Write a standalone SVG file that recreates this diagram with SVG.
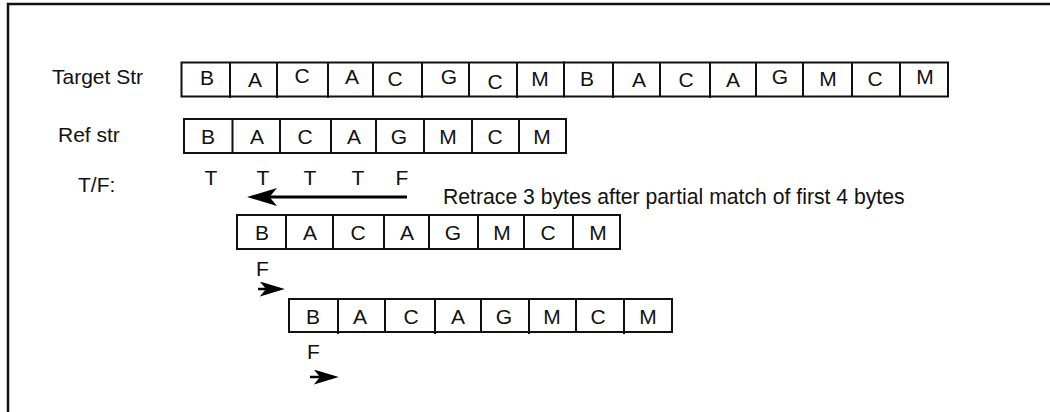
<svg xmlns="http://www.w3.org/2000/svg" width="1050" height="412" viewBox="0 0 1050 412">
<style>
text{font-family:"Liberation Sans",Arial,sans-serif;font-size:21px;fill:#111}
.c{text-anchor:middle}
.box{fill:#fff;stroke:#111;stroke-width:2}
.div{stroke:#111;stroke-width:2}
.arr{stroke:#000;fill:none}
</style>
<defs>
<marker id="ah" viewBox="0 0 10 6" refX="2.5" refY="3" markerWidth="10" markerHeight="6" orient="auto" markerUnits="strokeWidth">
<path d="M0,0 L10,3 L0,6 L2.5,3 z" fill="#000"/>
</marker>
</defs>
<rect width="1050" height="412" fill="#fff"/>
<path d="M8,412 V4 H1050" fill="none" stroke="#111" stroke-width="2.5"/>

<g id="labels">
<text x="52" y="84">Target Str</text>
<text x="58" y="142">Ref str</text>
<text x="78" y="192">T/F:</text>
</g>

<g id="target">
<rect class="box" x="181.5" y="62.5" width="382.5" height="34"/>
<rect class="box" x="564" y="62.5" width="384" height="34"/>
<path class="div" d="M230,62.5V98 M277,62.5V98 M328,62.5V98 M373,62.5V97 M422,62.5V98 M469,62.5V97 M517,62.5V98 M613,62.5V98 M660,62.5V97 M710,62.5V98 M756,62.5V97 M803,62.5V97 M852,62.5V97 M900,62.5V97"/>
<text class="c" x="207" y="85">B</text>
<text class="c" x="255" y="87">A</text>
<text class="c" x="302" y="83">C</text>
<text class="c" x="352" y="84">A</text>
<text class="c" x="395" y="86">C</text>
<text class="c" x="449" y="84">G</text>
<text class="c" x="495" y="89">C</text>
<text class="c" x="540" y="86">M</text>
<text class="c" x="587" y="86">B</text>
<text class="c" x="639" y="87">A</text>
<text class="c" x="686" y="87">C</text>
<text class="c" x="733" y="87">A</text>
<text class="c" x="780" y="84">G</text>
<text class="c" x="828" y="86">M</text>
<text class="c" x="875" y="86">C</text>
<text class="c" x="925" y="84">M</text>
</g>

<g id="ref">
<rect class="box" x="184" y="119" width="382" height="34"/>
<path class="div" d="M232.5,119V154 M280,119V153 M331,119V154 M376,119V153 M424,119V154 M472,119V153 M519,119V153"/>
<text class="c" x="208" y="144">B</text>
<text class="c" x="257" y="144">A</text>
<text class="c" x="305" y="144">C</text>
<text class="c" x="354" y="144">A</text>
<text class="c" x="399" y="144">G</text>
<text class="c" x="448" y="144">M</text>
<text class="c" x="495" y="144">C</text>
<text class="c" x="542" y="144">M</text>
</g>

<g id="tf">
<text class="c" x="211" y="185">T</text>
<text class="c" x="263" y="185">T</text>
<text class="c" x="310" y="185">T</text>
<text class="c" x="358" y="185">T</text>
<text class="c" x="402" y="185">F</text>
<text x="443" y="204" style="font-size:21.2px">Retrace 3 bytes after partial match of first 4 bytes</text>
</g>

<g id="shift1">
<rect class="box" x="237" y="215" width="383" height="34"/>
<path class="div" d="M286,215V250 M333,215V249 M384,215V250 M429,215V249 M478,215V250 M524,215V249 M573,215V249"/>
<text class="c" x="262" y="240">B</text>
<text class="c" x="310" y="240">A</text>
<text class="c" x="358" y="240">C</text>
<text class="c" x="407" y="240">A</text>
<text class="c" x="453" y="240">G</text>
<text class="c" x="502" y="240">M</text>
<text class="c" x="548" y="240">C</text>
<text class="c" x="598" y="240">M</text>
<text x="256" y="276">F</text>
</g>

<g id="shift2">
<rect class="box" x="289" y="299" width="383" height="33"/>
<path class="div" d="M338,299V334 M385,299V333 M435,299V334 M481,299V333 M529,299V334 M576,299V333 M624,299V334"/>
<text class="c" x="313" y="324">B</text>
<text class="c" x="360" y="324">A</text>
<text class="c" x="411" y="324">C</text>
<text class="c" x="458" y="324">A</text>
<text class="c" x="504" y="324">G</text>
<text class="c" x="552" y="324">M</text>
<text class="c" x="598" y="324">C</text>
<text class="c" x="648" y="324">M</text>
<text x="307" y="359">F</text>
</g>

<g id="connectors">
<line class="arr" x1="407" y1="197" x2="269.5" y2="197" stroke-width="3" marker-end="url(#ah)"/>
<line class="arr" x1="258" y1="289" x2="266" y2="289" stroke-width="2.5" marker-end="url(#ah)"/>
<line class="arr" x1="310" y1="377" x2="320" y2="377" stroke-width="2.5" marker-end="url(#ah)"/>
</g>
</svg>
